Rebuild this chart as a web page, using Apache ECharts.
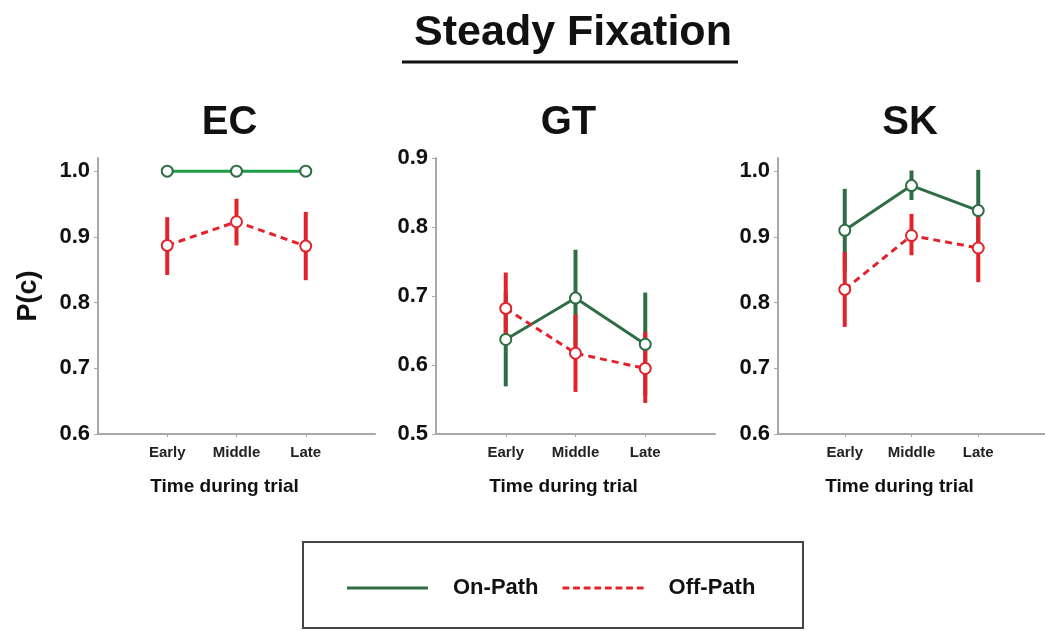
<!DOCTYPE html>
<html>
<head>
<meta charset="utf-8">
<script src="https://cdn.jsdelivr.net/npm/echarts@6/dist/echarts.min.js"></script>
<style>html,body{margin:0;padding:0;background:#fff}#c{width:1045px;height:631px}</style>
</head>
<body>
<div id="c"></div>
<script>
// ---- data ----
const categories = ['Early', 'Middle', 'Late'];
const catX = [1, 2, 3];
const panelNames = ['EC', 'GT', 'SK'];
const yTicksEC = [0.6, 0.7, 0.8, 0.9, 1.0];
const yTicksGT = [0.5, 0.6, 0.7, 0.8, 0.9];
const yTicksSK = [0.6, 0.7, 0.8, 0.9, 1.0];

const ecOn    = [1.000, 1.000, 1.000];
const ecOnLo  = [1.000, 1.000, 1.000];
const ecOnHi  = [1.000, 1.000, 1.000];
const ecOff   = [0.887, 0.923, 0.886];
const ecOffLo = [0.842, 0.887, 0.834];
const ecOffHi = [0.930, 0.958, 0.938];

const gtOn    = [0.637, 0.697, 0.630];
const gtOnLo  = [0.569, 0.627, 0.556];
const gtOnHi  = [0.705, 0.767, 0.705];
const gtOff   = [0.682, 0.617, 0.595];
const gtOffLo = [0.630, 0.561, 0.545];
const gtOffHi = [0.734, 0.673, 0.648];

const skOn    = [0.910, 0.978, 0.940];
const skOnLo  = [0.847, 0.956, 0.878];
const skOnHi  = [0.973, 1.001, 1.002];
const skOff   = [0.820, 0.902, 0.883];
const skOffLo = [0.763, 0.872, 0.831];
const skOffHi = [0.877, 0.935, 0.934];

// ---- styling ----
const FONT = '"Liberation Sans", Arial, Helvetica, sans-serif';
const RED = '#e3232c';
const GREEN_DARK = '#2f6d44';
const GREEN_EC = '#1f9e4a';
const AXIS = '#a8a8a8';

const panels = [
  {name: 'EC', on: ecOn, onLo: ecOnLo, onHi: ecOnHi, off: ecOff, offLo: ecOffLo, offHi: ecOffHi,
   ticks: yTicksEC, ymin: 0.6, ymax: 1.02, left: 98, width: 277, lineGreen: GREEN_EC, showOnErr: false},
  {name: 'GT', on: gtOn, onLo: gtOnLo, onHi: gtOnHi, off: gtOff, offLo: gtOffLo, offHi: gtOffHi,
   ticks: yTicksGT, ymin: 0.5, ymax: 0.9, left: 436, width: 279, lineGreen: GREEN_DARK, showOnErr: true},
  {name: 'SK', on: skOn, onLo: skOnLo, onHi: skOnHi, off: skOff, offLo: skOffLo, offHi: skOffHi,
   ticks: yTicksSK, ymin: 0.6, ymax: 1.02, left: 778, width: 278, lineGreen: GREEN_DARK, showOnErr: true}
];

const grid = [], xAxis = [], yAxis = [], series = [], titles = [];

titles.push({
  text: 'Steady Fixation', left: 568, top: 7, textAlign: 'center',
  textStyle: {fontFamily: FONT, fontWeight: 'bold', fontSize: 43, color: '#111'}
});

function errSeries(i, name, xs, lo, hi, color) {
  return {
    type: 'custom', name: name, xAxisIndex: i, yAxisIndex: i,
    data: xs.map((x, k) => [x, lo[k], hi[k]]),
    encode: {x: 0, y: [1, 2]},
    silent: true, z: 2,
    renderItem: function (params, api) {
      const x = api.value(0);
      const p1 = api.coord([x, api.value(1)]);
      const p2 = api.coord([x, api.value(2)]);
      return {type: 'line', shape: {x1: p1[0], y1: p1[1], x2: p2[0], y2: p2[1]},
              style: {stroke: color, lineWidth: 4}};
    }
  };
}

panels.forEach((p, i) => {
  grid.push({left: p.left, top: 158, width: p.width, height: 276, containLabel: false});
  const xTitleCenter = p.left + p.width / 2 - 12;
  titles.push({
    text: p.name, left: xTitleCenter, top: 98, textAlign: 'center',
    textStyle: {fontFamily: FONT, fontWeight: 'bold', fontSize: 40, color: '#111'}
  });
  xAxis.push({
    type: 'value', gridIndex: i, min: 0, max: 4, interval: 1,
    name: 'Time during trial', nameLocation: 'middle', nameGap: 43,
    nameTextStyle: {fontFamily: FONT, fontWeight: 'bold', fontSize: 19, color: '#111', padding: [0, 24, 0, 0]},
    axisLine: {show: true, lineStyle: {color: AXIS, width: 2}},
    axisTick: {show: true, customValues: catX, length: 3, lineStyle: {color: AXIS, width: 1}},
    axisLabel: {customValues: catX, margin: 11, fontFamily: FONT, fontWeight: 'bold', fontSize: 15, color: '#222',
      formatter: v => categories[catX.indexOf(Math.round(v))] || ''},
    splitLine: {show: false}
  });
  yAxis.push({
    type: 'value', gridIndex: i, min: p.ymin, max: p.ymax,
    name: i === 0 ? 'P(c)' : '', nameLocation: 'middle', nameGap: 56, nameRotate: 90,
    nameTextStyle: {fontFamily: FONT, fontWeight: 'bold', fontSize: 27, color: '#111'},
    axisLine: {show: true, lineStyle: {color: AXIS, width: 2}},
    axisTick: {show: true, customValues: p.ticks, length: 4, lineStyle: {color: AXIS, width: 1}},
    axisLabel: {customValues: p.ticks, margin: 8, fontFamily: FONT, fontWeight: 'bold', fontSize: 22, color: '#111',
      formatter: v => Number(v).toFixed(1)},
    splitLine: {show: false}
  });
  if (p.showOnErr) series.push(errSeries(i, 'On-Path error', catX, p.onLo, p.onHi, GREEN_DARK));
  series.push(errSeries(i, 'Off-Path error', catX, p.offLo, p.offHi, RED));
  series.push({
    type: 'line', name: 'On-Path', xAxisIndex: i, yAxisIndex: i, z: 3,
    data: catX.map((x, k) => [x, p.on[k]]),
    symbol: 'emptyCircle', symbolSize: 11,
    itemStyle: {color: GREEN_DARK, borderWidth: 2.5},
    lineStyle: {color: p.lineGreen, width: 3},
    silent: true
  });
  series.push({
    type: 'line', name: 'Off-Path', xAxisIndex: i, yAxisIndex: i, z: 4,
    data: catX.map((x, k) => [x, p.off[k]]),
    symbol: 'emptyCircle', symbolSize: 11,
    itemStyle: {color: RED, borderWidth: 2.5},
    lineStyle: {color: RED, width: 3, type: [7, 5]},
    silent: true
  });
});

// dashed legend icon path
let dashPath = 'path://';
for (let k = 0; k < 8; k++) { const x0 = k * 11; dashPath += 'M' + x0 + ',0h7v3h-7z'; }

const option = {
  backgroundColor: '#fff',
  animation: false,
  title: titles,
  grid: grid, xAxis: xAxis, yAxis: yAxis, series: series,
  legend: {
    left: 347, top: 575, orient: 'horizontal', padding: 0,
    itemWidth: 81, itemHeight: 3, itemGap: 24, selectedMode: false,
    textStyle: {fontFamily: FONT, fontWeight: 'bold', fontSize: 22, color: '#111', lineHeight: 26, padding: [0, 0, 0, 20]},
    data: [
      {name: 'On-Path', icon: 'path://M0,0h81v3h-81z', itemStyle: {color: GREEN_DARK, borderWidth: 0}},
      {name: 'Off-Path', icon: dashPath, itemStyle: {color: RED, borderWidth: 0}}
    ]
  },
  graphic: [
    {type: 'line', shape: {x1: 402, y1: 62, x2: 738, y2: 62}, style: {stroke: '#111', lineWidth: 3}},
    {type: 'rect', shape: {x: 303, y: 542, width: 500, height: 86}, style: {fill: 'none', stroke: '#444', lineWidth: 2}}
  ]
};

const chart = echarts.init(document.getElementById('c'), null, {renderer: 'canvas'});
chart.setOption(option);
</script>
</body>
</html>
